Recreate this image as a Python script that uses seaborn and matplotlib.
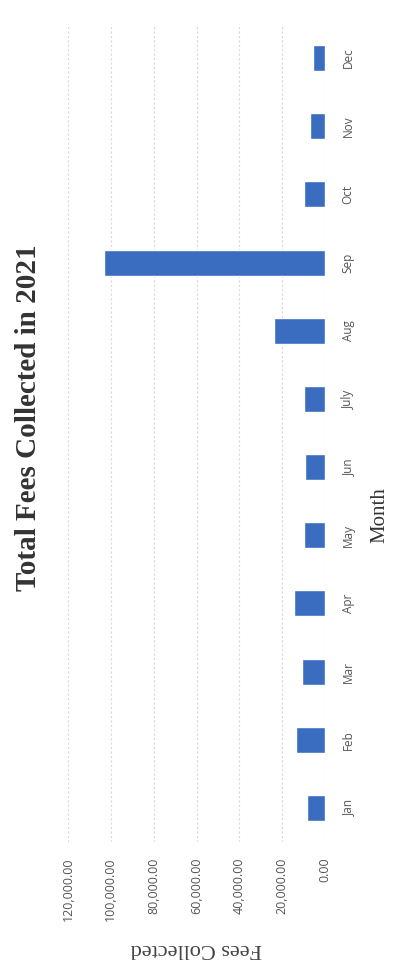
import matplotlib
matplotlib.use("Agg")
import matplotlib.pyplot as plt
import seaborn as sns
import pandas as pd

months = ["Jan", "Feb", "Mar", "Apr", "May", "Jun", "July", "Aug", "Sep", "Oct", "Nov", "Dec"]
fees = [8400, 13500, 10700, 14500, 9800, 9300, 9800, 23800, 103000, 9800, 7000, 5600]
value_ticks = [0, 20000, 40000, 60000, 80000, 100000, 120000]
value_tick_labels = ["0.00", "20,000.00", "40,000.00", "60,000.00", "80,000.00", "100,000.00", "120,000.00"]

df = pd.DataFrame({"Month": months, "Fees": fees})

sns.set_theme(style="white")
fig = plt.figure(figsize=(3.93, 9.73), dpi=100)
ax = fig.add_axes([68/393, 1-842/973, (325-68)/393, (842-24)/973])

sns.barplot(data=df, x="Fees", y="Month", order=months[::-1], orient="h",
            color="#3a6dbf", saturation=1, width=0.38, ax=ax)

ax.set_xlim(120000, 0)
ax.set_xticks(value_ticks)
ax.set_xticklabels(value_tick_labels, rotation=90, fontsize=9, color="#555555",
                   family=["Open Sans", "DejaVu Sans"])
ax.tick_params(axis="x", length=0, pad=11)
ax.yaxis.tick_right()
ax.yaxis.set_label_position("right")
for lbl in ax.get_yticklabels():
    lbl.set_rotation(90)
    lbl.set_va("center")
    lbl.set_ha("left")
    lbl.set_fontsize(8.5)
    lbl.set_color("#555555")
    lbl.set_family(["Open Sans", "DejaVu Sans"])
ax.tick_params(axis="y", length=0, pad=12)

ax.grid(axis="x", color="#d9d9d9", linestyle=(0, (2, 2)), linewidth=0.8)
ax.set_axisbelow(True)
for s in ax.spines.values():
    s.set_visible(False)

ax.set_xlabel("Fees Collected", rotation=180, fontsize=16, color="#444444",
              family=["Liberation Serif", "DejaVu Serif"])
ax.xaxis.set_label_coords(0.5, -0.118)
ax.set_ylabel("Month", rotation=90, fontsize=15, color="#333333", fontweight="normal",
              family=["Liberation Serif", "DejaVu Serif"])
ax.yaxis.set_label_coords((370-68)/(325-68), 1-(515-24)/(842-24))

fig.text(29/393, 1-418/973, "Total Fees Collected in 2021", rotation=90,
         ha="center", va="center", fontsize=21, fontweight="bold", color="#333333",
         family=["Liberation Serif", "DejaVu Serif"])

fig.savefig("out.png", dpi=100)
